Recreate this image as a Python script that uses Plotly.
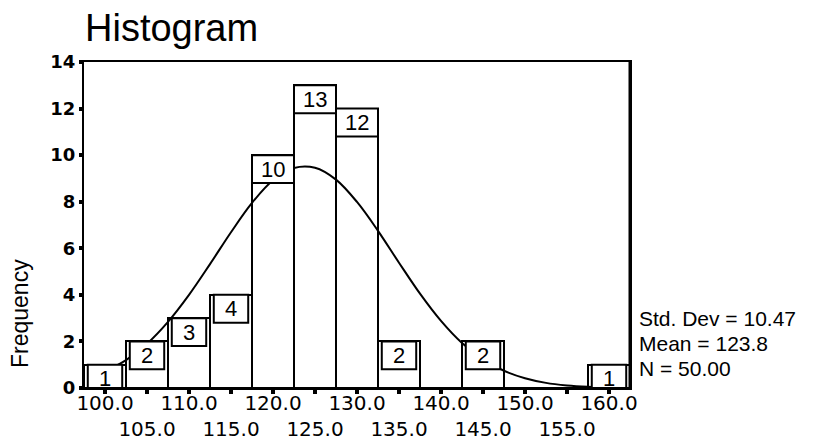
import plotly.graph_objects as go

# ---- data ----
bin_centers = [100, 105, 110, 115, 120, 125, 130, 135, 140, 145, 150, 155, 160]
counts      = [1, 2, 3, 4, 10, 13, 12, 2, 0, 2, 0, 0, 1]
x_ticks     = [100, 105, 110, 115, 120, 125, 130, 135, 140, 145, 150, 155, 160]
x_ticklabels = ["100.0", "105.0", "110.0", "115.0", "120.0", "125.0", "130.0",
                "135.0", "140.0", "145.0", "150.0", "155.0", "160.0"]
y_ticks = [0, 2, 4, 6, 8, 10, 12, 14]
# normal curve
curve_x = [100, 102.5, 105, 107.5, 110, 112.5, 115, 117.5, 120, 122.5, 125, 127.5,
           130, 132.5, 135, 137.5, 140, 142.5, 145, 147.5, 150, 152.5, 155, 157.5, 160]
curve_y = [0.72, 1.20, 1.90, 2.84, 4.00, 5.32, 6.69, 7.95, 8.92, 9.45, 9.46, 8.95,
           7.99, 6.75, 5.38, 4.05, 2.88, 1.93, 1.23, 0.74, 0.42, 0.22, 0.11, 0.05, 0.02]
stats_lines = ["Std. Dev = 10.47", "Mean = 123.8", "N = 50.00"]
title_text = "Histogram"
y_title = "Frequency"

BIN_W = 5
FONT = "Liberation Sans, Arial, sans-serif"
TICKFONT = "DejaVu Sans, sans-serif"

fig = go.Figure()
fig.add_trace(go.Bar(
    x=bin_centers, y=counts, width=BIN_W,
    marker=dict(color="white", line=dict(color="black", width=2)),
    hoverinfo="skip", showlegend=False))
fig.add_trace(go.Scatter(
    x=curve_x, y=curve_y, mode="lines", line=dict(color="black", width=2, shape="spline"),
    hoverinfo="skip", showlegend=False))

# label boxes at the top of each bar
shapes = []
annotations = []
for xc, c in zip(bin_centers, counts):
    if c <= 0:
        continue
    inset = 0.0 if c >= 10 else 0.45
    shapes.append(dict(type="rect", xref="x", yref="y", layer="above",
                       x0=xc - BIN_W / 2 + inset, x1=xc + BIN_W / 2 - inset,
                       y0=max(c - 1.2, 0), y1=c,
                       line=dict(color="black", width=2), fillcolor="white"))
    annotations.append(dict(x=xc, y=c - 0.6, xref="x", yref="y", text=str(c),
                            showarrow=False, font=dict(family=FONT, size=22, color="black"),
                            xanchor="center", yanchor="middle"))

# right frame edge is heavier in the reference
shapes.append(dict(type="line", xref="paper", yref="paper", x0=1, x1=1, y0=0, y1=1,
                   line=dict(color="black", width=3), layer="above"))

# title
annotations.append(dict(x=-0.002, y=1.104, xref="paper", yref="paper", text=title_text,
                        showarrow=False, xanchor="left", yanchor="middle",
                        font=dict(family=FONT, size=38, color="black")))
# y title
annotations.append(dict(x=-0.1172, y=0.227, xref="paper", yref="paper", text=y_title,
                        textangle=-90, showarrow=False, xanchor="center", yanchor="middle",
                        font=dict(family=FONT, size=23, color="black")))
# stats
for txt, yp in zip(stats_lines, [0.2147, 0.138, 0.0613]):
    annotations.append(dict(x=1.0128, y=yp, xref="paper", yref="paper", text=txt,
                            showarrow=False, xanchor="left", yanchor="middle",
                            font=dict(family=FONT, size=21, color="black")))

ticktext = [t if i % 2 == 0 else "<br>" + t for i, t in enumerate(x_ticklabels)]

# page body has an 8px margin, so the figure is 808x434 and offset accordingly
fig.update_layout(
    width=808, height=434,
    margin=dict(l=76, r=186, t=54, b=54),
    paper_bgcolor="white", plot_bgcolor="white",
    shapes=shapes, annotations=annotations,
    bargap=0, showlegend=False,
    xaxis=dict(range=[97.5, 162.5], tickvals=x_ticks, ticktext=ticktext,
               tickangle=0, automargin=False, ticklabelstandoff=-8,
               showgrid=False, zeroline=False, showline=True, mirror=True,
               linecolor="black", linewidth=2, ticks="outside", ticklen=4, tickwidth=4,
               tickcolor="black", tickfont=dict(family=TICKFONT, size=20, color="black")),
    yaxis=dict(range=[0, 14], tickvals=y_ticks, ticktext=[str(v) for v in y_ticks],
               automargin=False,
               showgrid=False, zeroline=False, showline=True, mirror=True,
               linecolor="black", linewidth=2, ticks="outside", ticklen=3, tickwidth=4,
               tickcolor="black",
               tickfont=dict(family=TICKFONT, size=18, color="black", weight="bold")),
)

fig.write_html("out.html")
